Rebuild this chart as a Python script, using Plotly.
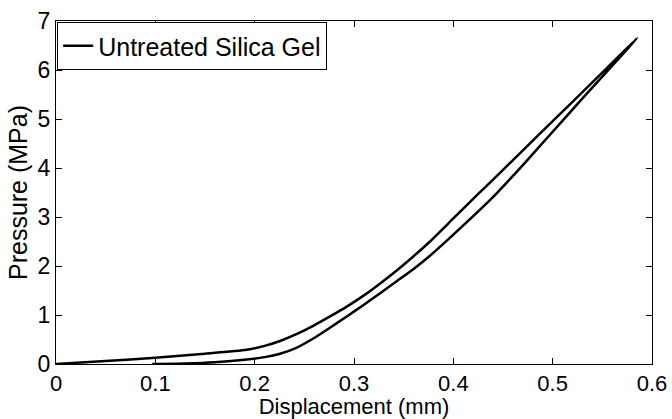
import plotly.graph_objects as go

# Loading branch (displacement increasing)
load_disp = [0.097, 0.13, 0.16, 0.192, 0.21, 0.2255, 0.242, 0.259, 0.275, 0.2927,
             0.31, 0.326, 0.343, 0.36, 0.3765, 0.40, 0.4386, 0.47, 0.50, 0.53,
             0.56, 0.585]
load_pres = [0.0, 0.01, 0.035, 0.09, 0.14, 0.21, 0.33, 0.52, 0.73, 0.97,
             1.21, 1.44, 1.69, 1.94, 2.21, 2.64, 3.38, 4.06, 4.74, 5.42,
             6.09, 6.65]

# Unloading branch (displacement decreasing back to zero)
unload_disp = [0.585, 0.555, 0.52, 0.482, 0.45, 0.4235, 0.40, 0.3765, 0.36, 0.343,
               0.326, 0.31, 0.2927, 0.275, 0.259, 0.242, 0.2255, 0.21, 0.192,
               0.15, 0.10, 0.05, 0.0]
unload_pres = [6.65, 6.05, 5.35, 4.60, 3.96, 3.44, 2.97, 2.50, 2.20, 1.91,
               1.64, 1.40, 1.17, 0.96, 0.78, 0.61, 0.47, 0.37, 0.29,
               0.21, 0.13, 0.06, 0.0]

x_ticks = [0, 0.1, 0.2, 0.3, 0.4, 0.5, 0.6]
x_labels = ["0", "0.1", "0.2", "0.3", "0.4", "0.5", "0.6"]
y_ticks = [0, 1, 2, 3, 4, 5, 6, 7]

font_family = "Liberation Sans, Arial, Helvetica, sans-serif"

fig = go.Figure()
fig.add_trace(go.Scatter(
    x=load_disp + unload_disp[1:],
    y=load_pres + unload_pres[1:],
    mode="lines",
    name="Untreated Silica Gel",
    line=dict(color="black", width=2.5, shape="spline", smoothing=0.6),
))

axis_common = dict(
    showgrid=False,
    zeroline=False,
    showline=True,
    linecolor="black",
    linewidth=1,
    mirror="ticks",
    ticks="inside",
    ticklen=6,
    tickcolor="black",
    automargin=False,
)

fig.update_layout(
    width=672,
    height=419,
    margin=dict(l=56, r=20, t=21, b=55),
    paper_bgcolor="white",
    plot_bgcolor="white",
    font=dict(family=font_family, size=23, color="black"),
    showlegend=True,
    legend=dict(
        x=0.002, y=0.997, xanchor="left", yanchor="top",
        bgcolor="white", bordercolor="black", borderwidth=1,
        font=dict(family=font_family, size=25, color="black"),
        itemwidth=30,
        tracegroupgap=0,
    ),
    xaxis=dict(
        range=[0, 0.6],
        tickvals=x_ticks,
        ticktext=x_labels,
        tickfont=dict(family=font_family, size=22, color="black"),
        title=dict(text="Displacement (mm)", standoff=2,
                   font=dict(family=font_family, size=22, color="black")),
        **axis_common,
    ),
    yaxis=dict(
        range=[0, 7],
        tickvals=y_ticks,
        tickfont=dict(family=font_family, size=23, color="black"),
        title=dict(text="Pressure (MPa)", standoff=2,
                   font=dict(family=font_family, size=25, color="black")),
        **axis_common,
    ),
)

fig.write_html("out.html")
